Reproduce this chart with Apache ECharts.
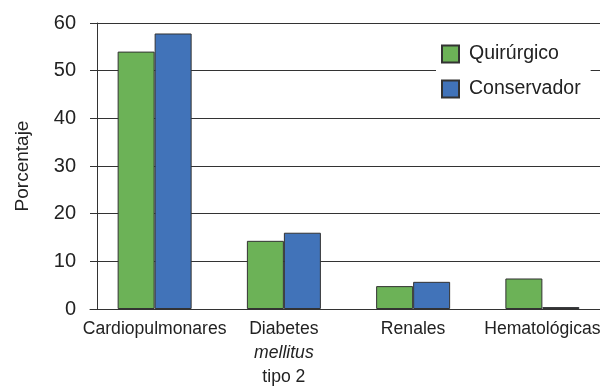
<!DOCTYPE html>
<html>
<head>
<meta charset="utf-8">
<script src="https://cdn.jsdelivr.net/npm/echarts@6/dist/echarts.min.js"></script>
<style>html,body{margin:0;padding:0;background:#fff}#chart{width:600px;height:388px}</style>
</head>
<body>
<div id="chart"></div>
<script>
// Comorbidity categories and percentage per treatment group
const categories = ['Cardiopulmonares', 'Diabetes', 'Renales', 'Hematológicas'];
const quirurgico = [54, 14.3, 4.8, 6.4];
const conservador = [57.8, 16, 5.7, 0.4];
const seriesNames = ['Quirúrgico', 'Conservador'];
const yTicks = [0, 10, 20, 30, 40, 50, 60];

const FONT = '"Liberation Sans", Arial, sans-serif';
const chart = echarts.init(document.getElementById('chart'));
chart.setOption({
  animation: false,
  textStyle: { fontFamily: FONT },
  grid: { left: 90, top: 23, width: 517, height: 286, outerBoundsMode: 'none' },
  legend: {
    data: seriesNames,
    orient: 'vertical',
    left: 436, top: 40,
    padding: [4, 10, 4, 5],
    backgroundColor: '#fff',
    itemWidth: 17, itemHeight: 17, itemGap: 15,
    icon: 'rect',
    textStyle: { fontFamily: FONT, fontSize: 19.5, color: '#222', padding: [0, 0, 0, 5] }
  },
  xAxis: {
    type: 'category',
    data: categories,
    axisLine: { show: true, lineStyle: { color: '#333', width: 1 } },
    axisTick: { show: false },
    axisLabel: {
      margin: 8, color: '#222', fontSize: 17.6, fontFamily: FONT, lineHeight: 24,
      interval: 0,
      formatter: v => v === 'Diabetes' ? 'Diabetes\n{i|mellitus}\ntipo 2' : v,
      rich: { i: { fontStyle: 'italic', fontSize: 17.6, fontFamily: FONT, color: '#222', lineHeight: 24 } }
    }
  },
  yAxis: {
    type: 'value', min: 0, max: 60, interval: 10,
    offset: -7,
    name: 'Porcentaje', nameLocation: 'middle', nameGap: 65, nameRotate: 90,
    nameTextStyle: { fontFamily: FONT, fontSize: 19, color: '#222' },
    axisLine: { show: true, lineStyle: { color: '#333', width: 1 } },
    axisTick: { show: false },
    splitLine: { show: true, lineStyle: { color: '#333', width: 1 } },
    axisLabel: {
      margin: 21, color: '#222', fontSize: 20, fontFamily: FONT,
      formatter: v => yTicks.includes(v) ? String(v) : ''
    }
  },
  series: [
    {
      name: seriesNames[0], type: 'bar', data: quirurgico,
      barWidth: 37, barGap: '0%',
      itemStyle: { color: '#6cb257', borderColor: '#333', borderWidth: 1 }
    },
    {
      name: seriesNames[1], type: 'bar', data: conservador,
      barWidth: 37, barGap: '0%',
      itemStyle: { color: '#4173b9', borderColor: '#333', borderWidth: 1 }
    }
  ]
});
</script>
</body>
</html>
